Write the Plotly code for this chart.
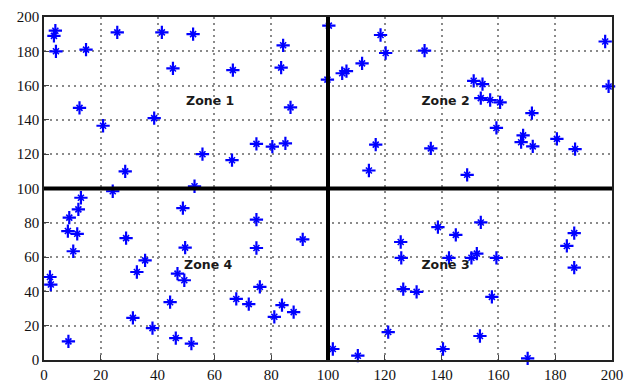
import plotly.graph_objects as go

# Node positions
x_vals = [4, 3.5, 4.2, 14.8, 12.5, 20.8, 25.8, 28.6, 38.8, 41.5, 45.4, 52.5, 66.5, 55.8, 66.2,
          53, 74.8, 80.4, 85, 86.8, 83.5, 84.2, 100.3, 99.8,
          118.5, 120.3, 134, 112, 105, 106.5, 116.8, 114.4, 136.2, 149, 151.3, 154.4, 153.8,
          157.1, 160.6, 159.3, 171.8, 168.7, 168, 172.1, 180.6, 187, 197.6, 198.8,
          24.2, 13, 12.1, 8.9, 8.4, 11.7, 10.3, 2.1, 2.4, 8.6, 28.9, 35.6, 32.7, 31.3, 38.2,
          44.4, 47, 46.4, 48.9, 49.7, 49.4, 51.9, 74.8, 74.8, 91.1, 76, 67.7, 72.1, 81.1,
          83.8, 87.9,
          101.7, 110.5, 121.2, 125.6, 125.8, 126.5, 131.2, 138.7, 145, 142.6, 140.5, 150.5,
          152.4, 153.8, 159.3, 157.7, 153.5, 170.3, 186.7, 184.1, 186.7]
y_vals = [192, 189, 180, 181, 147, 136.6, 191, 110, 141, 191, 170, 190, 169, 120, 116.5,
          101.3, 126, 124.4, 126.3, 147.3, 170.5, 183.5, 195, 163.5,
          189.5, 179, 180.4, 173, 167.2, 168.4, 125.6, 110.5, 123.4, 108, 162.8, 160.9, 152.7,
          151.6, 150.2, 135.3, 144, 131, 127, 124.6, 128.9, 123, 185.7, 159.5,
          98.4, 94.6, 87.8, 83, 75.2, 73.6, 63.4, 48.4, 44, 10.9, 71.1, 58.1, 51.3, 24.6, 18.6,
          33.7, 50.4, 12.8, 88.5, 65.5, 46.5, 9.5, 81.8, 65.3, 70.3, 42.6, 35.6, 32.6, 25.2,
          32, 27.9,
          6.4, 2.5, 16.3, 68.8, 59.5, 41.3, 39.7, 77.5, 73, 59.5, 6.4, 59.6,
          62, 80.2, 59.5, 36.8, 14, 1, 74, 66.5, 53.9]

zone_names = ["Zone 1", "Zone 2", "Zone 3", "Zone 4"]
zone_x = [58.5, 141.4, 141.4, 57.8]
zone_y = [150.6, 150.6, 54.7, 54.7]

ticks = list(range(0, 201, 20))
divider = 100

fig = go.Figure()
# asterisk-like marker: plus + small x
fig.add_trace(go.Scatter(
    x=x_vals, y=y_vals, mode="markers",
    marker=dict(symbol="cross-thin-open", size=9.5, color="#0000ff",
                line=dict(color="#1010ff", width=2.2)),
    showlegend=False, cliponaxis=False, hoverinfo="skip"))
fig.add_trace(go.Scatter(
    x=x_vals, y=y_vals, mode="markers",
    marker=dict(symbol="x-thin-open", size=6, color="#0000ff",
                line=dict(color="#1010ff", width=1.6)),
    showlegend=False, cliponaxis=False))

fig.add_trace(go.Scatter(
    x=zone_x, y=zone_y, mode="text", text=zone_names,
    textfont=dict(family="DejaVu Sans", size=12.5, color="#1a1a1a", weight="bold"),
    showlegend=False))

fig.add_shape(type="line", x0=divider, x1=divider, y0=0, y1=200, xref="x", yref="y",
              line=dict(color="black", width=4))
fig.add_shape(type="line", x0=0, x1=200, y0=divider, y1=divider, xref="x", yref="y",
              line=dict(color="black", width=4))

axis_common = dict(
    range=[0, 200], tickvals=ticks, ticktext=[str(t) for t in ticks],
    showgrid=True, gridcolor="#8a8a8a", griddash="2px,4px", gridwidth=1.6,
    zeroline=False, showline=True, linecolor="#222222", linewidth=1.5,
    mirror=True, ticks="inside", ticklen=5, tickcolor="#444444",
    tickfont=dict(family="Liberation Serif", size=15, color="#111111"),
    automargin=False, fixedrange=True)

fig.update_xaxes(**axis_common)
fig.update_yaxes(**axis_common)

fig.update_layout(
    width=624, height=387,
    margin=dict(l=44, r=12, t=17, b=27),
    paper_bgcolor="white", plot_bgcolor="white",
)

fig.write_html("out.html")
